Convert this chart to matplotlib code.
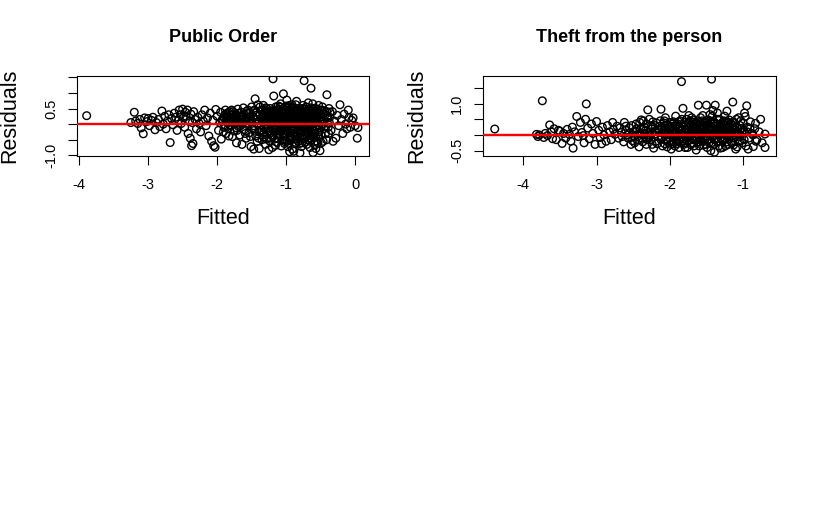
import numpy as np
import matplotlib
matplotlib.use("Agg")
import matplotlib.pyplot as plt

plt.rcParams['font.family'] = ['Liberation Sans', 'DejaVu Sans']

# residuals vs fitted (fitted, residual)
public_order = [
    (-3.89, 0.27),
    (-3.25, 0.05), (-3.20, 0.38), (-3.18, 0.10), (-3.15, 0.02), (-3.12, 0.15), (-3.10, -0.12), (-3.07, -0.31), (-3.05, 0.20), (-3.02, 0.08), (-3.00, 0.18),
    (-2.98, -0.05), (-2.95, 0.12), (-2.93, 0.22), (-2.90, -0.18), (-2.88, 0.05), (-2.85, 0.15), (-2.83, -0.08), (-2.80, 0.42), (-2.78, 0.00), (-2.76, 0.25),
    (-2.74, -0.15), (-2.72, 0.10), (-2.70, 0.30), (-2.68, -0.59), (-2.66, 0.18), (-2.64, -0.02), (-2.62, 0.35), (-2.60, 0.22), (-2.58, -0.20), (-2.56, 0.12),
    (-2.55, 0.45), (-2.53, 0.30), (-2.52, 0.02), (-2.50, 0.48), (-2.49, 0.20), (-2.47, -0.10), (-2.46, 0.38), (-2.45, 0.25), (-2.43, 0.45), (-2.42, -0.30),
    (-2.40, 0.10), (-2.39, -0.45), (-2.38, 0.32), (-2.37, -0.69), (-2.36, 0.05), (-2.35, -0.62), (-2.34, 0.40), (-2.32, 0.15), (-2.30, -0.15), (-2.28, 0.22),
    (-2.26, 0.02), (-2.24, -0.25), (-2.22, 0.30), (-2.20, 0.10), (-2.18, 0.45), (-2.16, -0.05), (-2.14, 0.20), (-2.12, -0.38), (-2.10, 0.35), (-2.08, -0.55),
    (-2.06, 0.12), (-2.05, -0.69), (-2.03, -0.74), (-2.02, 0.47), (-2.00, 0.25), (-1.98, -0.20), (-1.96, 0.05),
    (-1.95, 0.38), (-1.94, -0.48), (-1.92, 0.15), (-1.90, -0.10), (-1.89, 0.30), (-1.88, 0.45), (-1.87, -0.30), (-1.86, 0.22), (-1.85, 0.05), (-1.84, -0.15),
    (-1.83, 0.35), (-1.82, 0.18), (-1.81, -0.05), (-1.80, 0.28), (-1.79, 0.10), (-1.78, -0.40), (-1.77, 0.40), (-1.76, 0.20), (-1.75, -0.22), (-1.74, 0.02),
    (-1.73, 0.32), (-1.72, -0.60), (-1.71, 0.12), (-1.70, 0.48), (-1.69, -0.08), (-1.68, 0.25), (-1.67, -0.35), (-1.66, 0.15), (-1.65, 0.38), (-1.64, -0.65),
    (-1.63, 0.05), (-1.62, 0.52), (-1.61, -0.18), (-1.60, 0.30), (-1.59, 0.10), (-1.58, -0.45), (-1.57, 0.42), (-1.56, -0.02), (-1.55, 0.20), (-1.54, -0.28),
    (-1.53, 0.35), (-1.52, 0.08), (-1.51, -0.72), (-1.50, 0.55), (-1.49, -0.12), (-1.48, 0.25), (-1.47, -0.80), (-1.46, 0.45), (-1.45, 0.81), (-1.44, -0.38),
    (-1.43, 0.15), (-1.42, -0.55), (-1.41, 0.62), (-1.40, 0.02), (-1.39, -0.78), (-1.38, 0.30), (-1.37, -0.20),
    (-1.86, 0.10), (-1.84, 0.25), (-1.82, -0.02), (-1.80, 0.15), (-1.78, 0.30), (-1.76, 0.05), (-1.74, 0.20), (-1.72, -0.12), (-1.70, 0.10), (-1.68, 0.35),
    (-1.66, -0.05), (-1.64, 0.22),
    (-1.36, 0.45), (-1.35, -0.50), (-1.34, 0.18), (-1.33, 0.60), (-1.32, -0.10), (-1.31, 0.35), (-1.30, -0.65), (-1.29, 0.08), (-1.28, 0.50), (-1.27, -0.30),
    (-1.26, 0.22), (-1.25, -0.82), (-1.24, 0.40), (-1.23, 0.00), (-1.22, -0.45), (-1.21, 0.28), (-1.20, -0.75), (-1.19, 1.45), (-1.18, 0.90), (-1.17, 0.12),
    (-1.16, -0.20), (-1.15, 0.55), (-1.14, -0.58), (-1.13, 0.32), (-1.12, 0.05), (-1.11, -0.35), (-1.10, 0.48), (-1.09, -0.12), (-1.08, 0.65), (-1.07, -0.70),
    (-1.06, 0.20), (-1.05, -0.05), (-1.04, 0.97), (-1.03, 0.38), (-1.02, -0.42), (-1.01, 0.10), (-1.00, 0.58), (-0.99, 0.77), (-0.98, -0.25), (-0.97, 0.30),
    (-0.96, -0.62), (-0.95, 0.15), (-0.94, 0.45), (-0.93, -0.15), (-0.92, 0.02), (-0.91, -0.80), (-0.90, 0.52), (-0.89, -0.87), (-0.88, 0.25), (-0.87, -0.38),
    (-0.86, 0.62), (-0.85, 0.73), (-0.84, -0.08), (-0.83, 0.35), (-0.82, -0.55), (-0.81, 0.18), (-0.80, -0.28), (-0.79, 0.48), (-0.78, -0.72), (-0.77, 0.08),
    (-0.76, 0.40), (-0.75, -0.45), (-0.74, 1.39), (-0.73, 0.22), (-0.72, -0.18), (-0.71, 0.55), (-0.70, -0.65), (-0.69, 0.12), (-0.68, 0.68), (-0.67, -0.32),
    (-0.66, 0.28), (-0.65, -0.02), (-0.64, 1.15), (-0.63, -0.50), (-0.62, 0.42), (-0.61, -0.91), (-0.60, 0.15), (-0.59, -0.22), (-0.58, 0.50), (-0.57, -0.78),
    (-0.56, 0.05), (-0.55, 0.35), (-0.54, -0.40), (-0.53, 0.60), (-0.52, -0.12), (-0.51, -0.85), (-0.50, 0.22), (-0.49, -0.60), (-0.48, 0.45), (-0.47, 0.00),
    (-1.355, -0.20), (-1.335, 0.30), (-1.315, -0.40), (-1.295, 0.52), (-1.275, 0.00), (-1.255, 0.25), (-1.235, -0.55), (-1.215, 0.42), (-1.195, -0.15), (-1.175, 0.35),
    (-1.155, -0.68), (-1.135, 0.10), (-1.115, 0.58), (-1.095, -0.30), (-1.075, 0.20), (-1.055, -0.50), (-1.035, 0.48), (-1.015, -0.08), (-0.995, 0.30), (-0.975, -0.72),
    (-0.955, 0.40), (-0.935, -0.28), (-0.915, 0.62), (-0.895, 0.05), (-0.875, -0.48), (-0.855, 0.15), (-0.835, 0.50), (-0.815, -0.20), (-0.795, 0.28), (-0.775, -0.60),
    (-0.755, 0.60), (-0.735, -0.05), (-0.715, 0.32), (-0.695, -0.38), (-0.675, 0.45), (-0.655, -0.75), (-0.635, 0.18), (-0.615, 0.65), (-0.595, -0.30), (-0.575, 0.25),
    (-0.555, -0.55), (-0.535, 0.40), (-0.515, 0.10), (-0.495, -0.35), (-0.475, 0.55), (-0.455, -0.15), (-0.435, 0.30), (-0.415, -0.50), (-0.395, 0.20), (-0.375, 0.05),
    (-1.345, 0.10), (-1.325, -0.25), (-1.305, 0.40), (-1.285, -0.48), (-1.265, 0.15), (-1.245, 0.05), (-1.225, 0.28), (-1.205, -0.35), (-1.185, 0.20), (-1.165, -0.02),
    (-1.145, 0.38), (-1.125, -0.45), (-1.105, 0.22), (-1.085, 0.02), (-1.065, -0.18), (-1.045, 0.30), (-1.025, -0.62), (-1.005, 0.18), (-0.985, 0.05), (-0.965, 0.42),
    (-0.945, -0.40), (-0.925, 0.20), (-0.905, -0.10), (-0.885, 0.38), (-0.865, -0.62), (-0.845, 0.28), (-0.825, 0.08), (-0.805, -0.42), (-0.785, 0.42), (-0.765, -0.25),
    (-0.745, 0.10), (-0.725, -0.58), (-0.705, 0.40), (-0.685, 0.00), (-0.665, -0.45), (-0.645, 0.52), (-0.625, -0.15), (-0.605, 0.32), (-0.585, -0.65), (-0.565, 0.15),
    (-0.545, 0.48), (-0.525, -0.25), (-0.505, 0.30), (-0.485, 0.12), (-0.465, -0.55), (-0.445, 0.42), (-0.425, -0.08), (-0.405, 0.25), (-0.385, -0.30), (-0.365, 0.38),
    (-1.10, 0.00), (-1.08, -0.22), (-1.06, 0.45), (-1.04, -0.35), (-1.02, 0.15), (-1.00, -0.10), (-0.98, 0.32), (-0.96, 0.08), (-0.94, -0.52), (-0.92, 0.55),
    (-0.90, -0.30), (-0.88, 0.10), (-0.86, -0.15), (-0.84, 0.42), (-0.82, 0.22), (-0.80, 0.05), (-0.78, -0.40), (-0.76, 0.18), (-0.74, -0.10), (-0.72, 0.35),
    (-0.70, 0.05), (-0.68, -0.20), (-0.66, 0.45), (-0.64, -0.35), (-0.62, 0.08), (-0.60, 0.40), (-0.58, -0.10), (-0.56, 0.28), (-0.54, -0.60), (-0.52, 0.38),
    (-1.93, 0.12), (-1.91, -0.25), (-1.87, 0.08), (-1.83, -0.38), (-1.79, 0.45), (-1.75, 0.18), (-1.71, -0.20), (-1.67, 0.05), (-1.63, 0.28), (-1.59, -0.30),
    (-1.55, 0.45), (-1.51, 0.15), (-1.47, -0.05), (-1.43, 0.38), (-1.39, -0.25), (-1.35, 0.08), (-1.31, 0.20), (-1.27, -0.12), (-1.23, 0.50), (-1.19, -0.40),
    (-1.15, 0.25), (-1.11, -0.22), (-1.07, 0.38), (-1.03, -0.02), (-0.99, -0.55), (-0.95, 0.60), (-0.91, 0.28), (-0.87, 0.00), (-0.83, -0.30), (-0.79, 0.15),
    (-1.29, -0.05), (-1.27, 0.32), (-1.25, 0.10), (-1.23, -0.28), (-1.21, 0.05), (-1.19, 0.38), (-1.17, -0.48), (-1.15, -0.08), (-1.13, 0.15), (-1.11, 0.42),
    (-1.09, 0.28), (-1.07, -0.10), (-1.05, 0.35), (-1.03, -0.55), (-1.01, 0.25), (-0.99, -0.18), (-0.97, 0.10), (-0.95, -0.45), (-0.93, 0.35), (-0.91, 0.10),
    (-0.89, -0.20), (-0.87, 0.45), (-0.85, -0.35), (-0.83, 0.12), (-0.81, -0.62), (-0.79, 0.30), (-0.77, -0.12), (-0.75, 0.25), (-0.73, -0.35), (-0.71, 0.15),
    (-0.69, -0.50), (-0.67, 0.35), (-0.65, 0.15), (-0.63, -0.25), (-0.61, 0.50), (-0.59, 0.05), (-0.57, -0.40), (-0.55, 0.20), (-0.53, -0.05), (-0.51, 0.45),
    (-1.285, 0.22), (-1.245, -0.22), (-1.205, 0.12), (-1.165, 0.45), (-1.125, -0.15), (-1.085, 0.55), (-1.045, -0.28), (-1.005, 0.45), (-0.965, -0.05), (-0.925, -0.45),
    (-0.885, 0.20), (-0.845, -0.48), (-0.805, 0.38), (-0.765, 0.02), (-0.725, 0.48), (-0.685, -0.28), (-0.645, 0.25), (-0.605, -0.42), (-0.565, 0.40), (-0.525, 0.20),
    (-1.05, 0.12), (-1.01, -0.35), (-0.97, 0.52), (-0.93, 0.05), (-0.89, 0.30), (-0.85, 0.00), (-0.81, -0.05), (-0.77, 0.50), (-0.73, 0.00), (-0.69, 0.25),
    (-0.65, -0.55), (-0.61, 0.05), (-0.57, 0.32), (-0.53, -0.35), (-0.49, 0.10), (-0.45, 0.15), (-0.43, -0.30), (-0.41, 0.40), (-0.39, -0.10), (-0.37, 0.22),
    (-1.58, 0.18), (-1.56, 0.35), (-1.54, 0.02), (-1.52, -0.40), (-1.50, 0.10), (-1.48, 0.40), (-1.46, -0.20), (-1.44, 0.28), (-1.42, 0.00), (-1.40, -0.45),
    (-1.38, 0.55), (-1.36, -0.05), (-1.34, -0.35), (-1.32, 0.25), (-1.30, 0.45), (-1.90, 0.20), (-1.88, -0.05), (-1.86, 0.35), (-1.84, 0.10), (-1.82, 0.40),
    (-0.80, -0.92), (-0.95, -0.88),
    (-0.41, 0.94), (-0.35, -0.20), (-0.33, 0.40), (-0.30, 0.10), (-0.28, -0.45), (-0.26, 0.28), (-0.24, -0.05), (-0.22, 0.62), (-0.20, 0.15), (-0.18, -0.30),
    (-0.16, 0.32), (-0.14, 0.00), (-0.12, -0.15), (-0.10, 0.45), (-0.09, 0.21), (-0.07, -0.10), (-0.05, 0.12), (-0.03, 0.20), (0.00, -0.05), (0.04, -0.11),
    (0.03, -0.45), (-0.38, 0.50), (-0.32, -0.55),
]

theft_person = [
    (-4.39, 0.19),
    (-3.82, 0.02), (-3.80, -0.05), (-3.78, 0.00), (-3.74, 1.09), (-3.72, -0.08), (-3.70, 0.05), (-3.67, -0.02), (-3.64, 0.32), (-3.62, 0.10), (-3.58, 0.20),
    (-3.55, -0.15), (-3.52, 0.15), (-3.50, 0.12), (-3.47, -0.27), (-3.45, 0.05), (-3.42, -0.10), (-3.40, 0.18), (-3.37, 0.02), (-3.35, -0.20), (-3.32, -0.42),
    (-3.30, 0.10), (-3.27, 0.59), (-3.25, -0.05), (-3.22, 0.40), (-3.20, 0.08), (-3.17, -0.25), (-3.15, 0.50), (-3.14, 0.99), (-3.12, 0.22), (-3.10, -0.12),
    (-3.07, 0.35), (-3.05, 0.05), (-3.02, -0.30), (-3.00, 0.43), (-2.97, 0.15), (-2.95, -0.08), (-2.92, 0.25), (-2.90, 0.00), (-2.87, -0.20), (-2.85, 0.30),
    (-2.82, 0.10), (-2.80, -0.15), (-2.77, 0.18), (-2.75, 0.02), (-2.72, 0.28), (-2.70, -0.10), (-2.68, 0.23), (-2.66, 0.08), (-2.63, -0.22), (-2.60, 0.15),
    (-2.58, 0.00), (-2.55, 0.23), (-2.53, -0.30), (-3.60, -0.12), (-3.33, 0.25), (-3.18, -0.02), (-2.93, -0.28), (-2.78, 0.40),
    (-2.50, 0.10), (-2.48, -0.25), (-2.46, 0.35), (-2.44, 0.02), (-2.42, -0.38), (-2.40, 0.20), (-2.38, -0.10), (-2.36, 0.45), (-2.34, 0.05), (-2.32, -0.30),
    (-2.30, 0.80), (-2.28, 0.50), (-2.26, -0.15), (-2.24, 0.25), (-2.22, -0.42), (-2.20, 0.12), (-2.18, 0.38), (-2.16, -0.05), (-2.14, 0.28), (-2.12, 0.82),
    (-2.10, -0.35), (-2.08, 0.15), (-2.06, 0.55), (-2.04, -0.20), (-2.02, 0.08), (-2.00, 0.40), (-1.98, -0.45), (-1.96, 0.22), (-1.94, -0.02), (-1.92, 0.60),
    (-1.90, -0.28), (-1.88, 0.18), (-1.86, 0.45), (-1.84, 1.70), (-1.82, 0.85), (-1.80, -0.12), (-1.78, 0.30), (-1.76, -0.40), (-1.74, 0.62), (-1.72, 0.05),
    (-1.70, -0.25), (-1.68, 0.48), (-1.66, 0.12), (-1.64, -0.48), (-1.62, 0.35), (-1.61, 0.95), (-1.60, -0.08), (-1.58, 0.55), (-1.56, 0.20), (-1.54, -0.32),
    (-1.52, 0.42), (-1.50, 0.95), (-1.48, -0.15), (-1.46, 0.28), (-1.44, -0.50), (-1.43, 1.78), (-1.42, 0.60), (-1.41, 0.78), (-1.40, 0.10), (-1.39, -0.55),
    (-1.38, 0.95), (-1.36, 0.35), (-1.34, -0.22), (-1.32, 0.50), (-1.30, 0.02), (-1.28, -0.40), (-1.26, 0.45), (-1.24, 0.15), (-1.22, 0.76), (-1.20, -0.30),
    (-1.18, 0.30), (-1.16, -0.05), (-1.14, 1.05), (-1.12, 0.40), (-1.10, -0.45), (-1.08, 0.22), (-1.06, 0.55), (-1.04, -0.18), (-1.02, 0.08), (-1.00, 0.38),
    (-2.49, -0.05), (-2.45, 0.20), (-2.41, 0.40), (-2.37, -0.22), (-2.33, 0.15), (-2.29, -0.05), (-2.25, 0.30), (-2.21, 0.02), (-2.17, -0.28), (-2.13, 0.45),
    (-2.09, 0.05), (-2.05, -0.12), (-2.01, 0.25), (-1.97, 0.10), (-1.93, -0.35), (-1.89, 0.35), (-1.85, 0.02), (-1.81, -0.30), (-1.77, 0.50), (-1.73, -0.15),
    (-1.69, 0.20), (-1.65, 0.38), (-1.61, -0.22), (-1.57, 0.05), (-1.53, 0.25), (-1.49, -0.40), (-1.45, 0.45), (-1.41, 0.00), (-1.37, 0.18), (-1.33, -0.35),
    (-1.29, 0.30), (-1.25, -0.10), (-1.21, 0.42), (-1.17, 0.12), (-1.13, -0.32), (-1.09, 0.50), (-1.05, 0.02), (-1.01, -0.25), (-0.97, 0.59), (-0.95, 0.93),
    (-2.11, 0.20), (-2.07, -0.28), (-2.03, 0.32), (-1.99, 0.00), (-1.95, 0.42), (-1.91, 0.08), (-1.87, -0.18), (-1.83, 0.28), (-1.79, 0.10), (-1.75, -0.08),
    (-1.71, 0.32), (-1.67, -0.35), (-1.63, 0.15), (-1.59, 0.40), (-1.55, -0.12), (-1.51, 0.18), (-1.47, 0.35), (-1.43, -0.25), (-1.39, 0.28), (-1.35, 0.05),
    (-1.31, -0.42), (-1.27, 0.22), (-1.23, -0.02), (-1.19, 0.48), (-1.15, 0.18), (-2.115, -0.10), (-2.075, 0.45), (-2.035, -0.38), (-1.995, 0.18), (-1.955, -0.20),
    (-1.915, 0.30), (-1.875, -0.40), (-1.835, 0.50), (-1.795, -0.25), (-1.755, 0.22), (-1.715, -0.02), (-1.675, 0.25), (-1.635, 0.02), (-1.595, -0.35), (-1.555, 0.45),
    (-1.515, -0.05), (-1.475, 0.15), (-1.435, 0.40), (-1.395, -0.15), (-1.355, 0.50), (-1.315, 0.12), (-1.275, -0.20), (-1.235, 0.32), (-1.195, -0.12), (-1.155, 0.05),
    (-2.00, 0.15), (-1.96, -0.28), (-1.92, 0.30), (-1.88, 0.00), (-1.84, -0.10), (-1.80, 0.40), (-1.76, 0.15), (-1.72, -0.30), (-1.68, 0.05), (-1.64, 0.22),
    (-1.60, 0.30), (-1.56, -0.20), (-1.52, 0.08), (-1.48, 0.48), (-1.44, 0.18), (-1.40, -0.30), (-1.36, 0.08), (-1.32, 0.25), (-1.28, 0.40), (-1.24, -0.35),
    (-1.20, 0.12), (-1.16, 0.35), (-1.12, -0.10), (-1.08, -0.38), (-1.04, 0.30), (-1.70, 0.55), (-1.55, 0.62), (-1.45, 0.65), (-1.35, 0.70), (-1.25, 0.60),
    (-2.35, 0.25), (-2.31, -0.15), (-2.27, 0.10), (-2.23, 0.42), (-2.19, -0.20), (-2.15, 0.10), (-2.11, -0.05), (-2.07, 0.30), (-2.03, 0.00), (-1.99, -0.30),
    (-1.95, 0.15), (-1.91, -0.15), (-1.87, 0.25), (-1.83, 0.05), (-1.79, -0.40), (-1.75, 0.38), (-1.71, 0.12), (-1.67, 0.40), (-1.63, -0.10), (-1.59, 0.18),
    (-1.55, 0.32), (-1.51, -0.30), (-1.47, 0.05), (-1.43, 0.22), (-1.39, 0.10), (-1.35, -0.20), (-1.31, 0.35), (-1.27, 0.05), (-1.23, 0.20), (-1.19, 0.02),
    (-1.15, -0.25), (-1.11, 0.25), (-1.07, 0.10), (-1.03, 0.45), (-2.32, 0.35), (-2.28, 0.00), (-2.24, -0.30), (-2.20, 0.30), (-2.16, 0.18), (-2.12, -0.15),
    (-2.08, 0.38), (-2.04, 0.12), (-2.00, -0.10), (-1.96, 0.35), (-1.92, -0.08), (-1.88, 0.42), (-1.84, 0.18), (-1.80, 0.02), (-1.76, -0.20), (-1.72, 0.45),
    (-1.68, -0.15), (-1.64, 0.35), (-1.60, 0.10), (-1.56, 0.05), (-1.52, -0.15), (-1.48, 0.25), (-1.44, 0.00), (-1.40, 0.42), (-1.36, -0.10), (-1.32, 0.08),
    (-1.28, -0.15), (-1.24, 0.42), (-1.20, 0.28), (-1.16, -0.20), (-1.12, 0.18), (-1.08, 0.05), (-1.04, -0.05), (-2.405, 0.05), (-2.365, 0.18), (-2.325, -0.10),
    (-1.985, 0.28), (-1.945, 0.05), (-1.905, -0.22), (-1.865, 0.12), (-1.825, -0.20), (-1.785, 0.20), (-1.745, -0.02), (-1.705, 0.18), (-1.665, -0.05), (-1.625, 0.45),
    (-1.585, -0.15), (-1.545, 0.10), (-1.505, 0.38), (-1.465, -0.25), (-1.425, 0.15), (-1.385, 0.38), (-1.345, 0.20), (-1.305, -0.10), (-1.265, 0.12), (-1.225, -0.22),
    (-1.185, 0.22), (-1.145, 0.40), (-1.105, 0.08), (-1.065, -0.20), (-1.025, 0.20), (-0.985, -0.15), (-0.945, 0.10), (-0.905, 0.20), (-0.865, 0.00), (-0.825, -0.20),
    (-2.62, 0.40), (-2.57, -0.10), (-2.52, 0.30), (-2.47, 0.12), (-2.43, -0.15), (-2.39, 0.48), (-2.65, -0.05), (-2.60, 0.28), (-2.55, 0.05), (-2.51, -0.18),
    (-0.99, 0.15), (-0.96, -0.35), (-0.94, 0.25), (-0.92, -0.10), (-0.90, 0.42), (-0.88, 0.05), (-0.86, -0.37), (-0.84, 0.20), (-0.83, 0.37), (-0.81, -0.15),
    (-0.78, 0.10), (-0.76, 0.50), (-0.74, -0.25), (-0.70, 0.03), (-0.70, -0.40), (-0.93, -0.45), (-0.98, 0.70),
]

titles = ["Public Order", "Theft from the person"]
x_ticks = [[-4, -3, -2, -1, 0], [-4, -3, -2, -1]]
y_ticks = [[-1.0, -0.5, 0.0, 0.5, 1.0, 1.5], [-0.5, 0.0, 0.5, 1.0, 1.5]]
y_shown = [["-1.0", "0.5"], ["-0.5", "1.0"]]
x_limits = [(-4.03, 0.20), (-4.55, -0.55)]
y_limits = [(-1.02, 1.54), (-0.67, 1.88)]

W, H = 818, 507
fig = plt.figure(figsize=(W / 100, H / 100), dpi=100)

boxes = [(77, 76, 292, 80), (483, 76, 293, 80)]   # left, top, width, height in px
label_x = [10, 417]

for i, pts in enumerate([public_order, theft_person]):
    l, t, w, h = boxes[i]
    ax = fig.add_axes([l / W, 1 - (t + h) / H, w / W, h / H])
    fit, res = np.array(pts).T
    ax.scatter(fit, res, s=30, facecolors='none', edgecolors='black', linewidths=1.0, zorder=2)
    ax.axhline(0, color='#ff0000', lw=1.7, zorder=3)
    ax.set_xlim(*x_limits[i])
    ax.set_ylim(*y_limits[i])

    ax.set_xticks(x_ticks[i])
    ax.set_xticklabels([str(v) for v in x_ticks[i]])
    ax.set_yticks(y_ticks[i])
    ax.set_yticklabels([("%.1f" % v) if ("%.1f" % v) in y_shown[i] else "" for v in y_ticks[i]])
    ax.tick_params(length=6.5, width=0.8, labelsize=10.5, colors='black', direction='out')
    ax.tick_params(axis='x', pad=9)
    ax.tick_params(axis='y', pad=7, labelrotation=90)
    for lab in ax.get_yticklabels():
        lab.set_va('center')
    for sp in ax.spines.values():
        sp.set_linewidth(0.8)

    cx = (l + w / 2) / W
    fig.text(cx, 1 - 38 / H, titles[i], ha='center', va='center', fontsize=13, fontweight='bold')
    fig.text(cx, 1 - 218 / H, "Fitted", ha='center', va='center', fontsize=15.5)
    fig.text(label_x[i] / W, 1 - (t + h / 2) / H, "Residuals", rotation=90,
             ha='center', va='center', fontsize=15.5)

fig.savefig("out.png", dpi=100)
